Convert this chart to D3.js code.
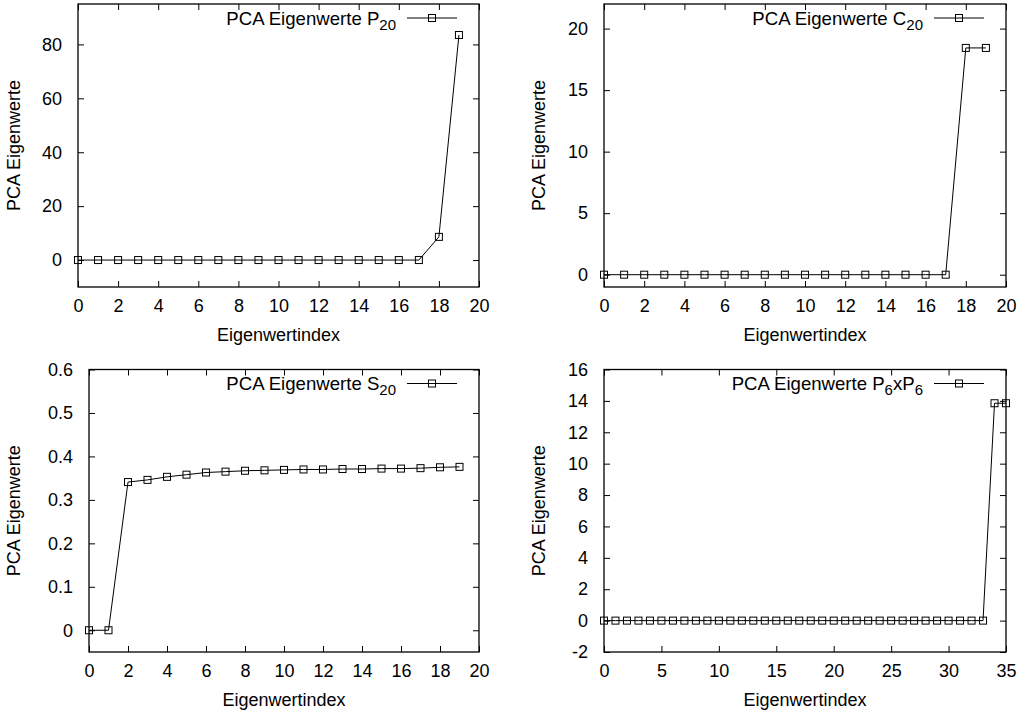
<!DOCTYPE html>
<html>
<head>
<meta charset="utf-8">
<script src="https://cdn.jsdelivr.net/npm/d3@7"></script>
<style>
  body { margin: 0; background: #fff; }
  svg text { font-family: "Liberation Sans", Arial, sans-serif; fill: #000; }
</style>
</head>
<body>
<div id="chart-area"></div>
<script>
// SVG Size
var width = 1021,
	height = 713;

// Eigenwerte
var p20Values = [0, 0, 0, 0, 0, 0, 0, 0, 0, 0, 0, 0, 0, 0, 0, 0, 0, 0, 8.6, 83.5];
var c20Values = [0, 0, 0, 0, 0, 0, 0, 0, 0, 0, 0, 0, 0, 0, 0, 0, 0, 0, 18.43, 18.43];
var s20Values = [0, 0, 0.341, 0.346, 0.353, 0.358, 0.363, 0.365, 0.367, 0.368, 0.369, 0.370,
	0.370, 0.371, 0.371, 0.372, 0.372, 0.373, 0.375, 0.376];
var p6p6Values = [0, 0, 0, 0, 0, 0, 0, 0, 0, 0, 0, 0, 0, 0, 0, 0, 0, 0, 0, 0,
	0, 0, 0, 0, 0, 0, 0, 0, 0, 0, 0, 0, 0, 0, 13.85, 13.85];

// tick labels
var xTicks20 = [0, 2, 4, 6, 8, 10, 12, 14, 16, 18, 20];
var xTicks35 = [0, 5, 10, 15, 20, 25, 30, 35];
var yTicksP20 = [0, 20, 40, 60, 80];
var yTicksC20 = [0, 5, 10, 15, 20];
var yTicksS20 = [0, 0.1, 0.2, 0.3, 0.4, 0.5, 0.6];
var yTicksP6 = [-2, 0, 2, 4, 6, 8, 10, 12, 14, 16];

// legend labels: [text, subscript] pieces
var legendP20 = [["PCA Eigenwerte P", ""], ["", "20"]];
var legendC20 = [["PCA Eigenwerte C", ""], ["", "20"]];
var legendS20 = [["PCA Eigenwerte S", ""], ["", "20"]];
var legendP6 = [["PCA Eigenwerte P", ""], ["", "6"], ["xP", ""], ["", "6"]];

var panels = [
	{ values: p20Values, xDomain: [0, 20], yDomain: [-10, 95], xTicks: xTicks20, yTicks: yTicksP20,
	  legend: legendP20, left: 78, right: 479, top: 4, bottom: 287, labelX: 20 },
	{ values: c20Values, xDomain: [0, 20], yDomain: [-1, 22], xTicks: xTicks20, yTicks: yTicksC20,
	  legend: legendC20, left: 604, right: 1006, top: 4, bottom: 287, labelX: 545 },
	{ values: s20Values, xDomain: [0, 20], yDomain: [-0.05, 0.6], xTicks: xTicks20, yTicks: yTicksS20,
	  legend: legendS20, left: 89, right: 479, top: 369.5, bottom: 652, labelX: 20 },
	{ values: p6p6Values, xDomain: [0, 35], yDomain: [-2, 16], xTicks: xTicks35, yTicks: yTicksP6,
	  legend: legendP6, left: 604, right: 1006, top: 369.5, bottom: 652, labelX: 545 }
];

var svg = d3.select('#chart-area')
	.append("svg")
	.attr("width", width)
	.attr("height", height);

var fontSize = 18;
var tickLen = 6;

panels.forEach(function(p) {
	var x = d3.scaleLinear().domain(p.xDomain).range([p.left, p.right]);
	var y = d3.scaleLinear().domain(p.yDomain).range([p.bottom, p.top]);
	var g = svg.append("g");

	// ticks, mirrored on all sides (gnuplot style, pointing inward)
	var xAxisB = d3.axisBottom(x).tickValues(p.xTicks).tickSizeInner(-tickLen).tickSizeOuter(0)
		.tickFormat(function(d) { return String(d); }).tickPadding(12);
	var xAxisT = d3.axisTop(x).tickValues(p.xTicks).tickSizeInner(-tickLen).tickSizeOuter(0)
		.tickFormat("");
	var yAxisL = d3.axisLeft(y).tickValues(p.yTicks).tickSizeInner(-tickLen).tickSizeOuter(0)
		.tickFormat(function(d) { return String(+d.toFixed(2)); }).tickPadding(16);
	var yAxisR = d3.axisRight(y).tickValues(p.yTicks).tickSizeInner(-tickLen).tickSizeOuter(0)
		.tickFormat("");

	g.append("g").attr("transform", "translate(0," + p.bottom + ")").call(xAxisB);
	g.append("g").attr("transform", "translate(0," + p.top + ")").call(xAxisT);
	g.append("g").attr("transform", "translate(" + p.left + ",0)").call(yAxisL);
	g.append("g").attr("transform", "translate(" + p.right + ",0)").call(yAxisR);

	g.selectAll(".domain").remove();
	g.selectAll(".tick line").attr("stroke", "#000").attr("stroke-width", 1);
	g.selectAll(".tick text")
		.style("font-size", fontSize + "px")
		.style("font-family", '"Liberation Sans", Arial, sans-serif')
		.attr("fill", "#000");

	// border box
	g.append("rect")
		.attr("x", p.left).attr("y", p.top)
		.attr("width", p.right - p.left).attr("height", p.bottom - p.top)
		.attr("fill", "none").attr("stroke", "#000").attr("stroke-width", 1.3);

	// axis labels
	g.append("text")
		.attr("x", (p.left + p.right) / 2)
		.attr("y", p.bottom + 54)
		.attr("text-anchor", "middle")
		.style("font-size", fontSize + "px")
		.text("Eigenwertindex");

	g.append("text")
		.attr("transform", "translate(" + p.labelX + "," + ((p.top + p.bottom) / 2) + ") rotate(-90)")
		.attr("text-anchor", "middle")
		.style("font-size", fontSize + "px")
		.text("PCA Eigenwerte");

	// data line
	var line = d3.line()
		.x(function(d, i) { return x(i); })
		.y(function(d) { return y(d); });

	g.append("path")
		.datum(p.values)
		.attr("d", line)
		.attr("fill", "none")
		.attr("stroke", "#000")
		.attr("stroke-width", 1);

	g.selectAll("rect.pt")
		.data(p.values)
		.enter()
		.append("rect")
		.attr("class", "pt")
		.attr("x", function(d, i) { return x(i) - 3.5; })
		.attr("y", function(d) { return y(d) - 3.5; })
		.attr("width", 7)
		.attr("height", 7)
		.attr("fill", "none")
		.attr("stroke", "#000")
		.attr("stroke-width", 1);

	// legend
	var ly = p.top + 14;
	var lx1 = p.right - 72, lx2 = p.right - 22;
	g.append("line")
		.attr("x1", lx1).attr("x2", lx2).attr("y1", ly).attr("y2", ly)
		.attr("stroke", "#000").attr("stroke-width", 1);
	g.append("rect")
		.attr("x", (lx1 + lx2) / 2 - 3.5).attr("y", ly - 3.5)
		.attr("width", 7).attr("height", 7)
		.attr("fill", "none").attr("stroke", "#000");

	var lt = g.append("text")
		.attr("x", lx1 - 11)
		.attr("y", ly + 6.5)
		.attr("text-anchor", "end")
		.style("font-size", "18.6px");
	var shifted = false;
	p.legend.forEach(function(piece) {
		if (piece[0]) {
			lt.append("tspan").attr("dy", shifted ? -5 : 0).text(piece[0]);
			shifted = false;
		} else {
			lt.append("tspan").attr("dy", shifted ? 0 : 5)
				.style("font-size", "15px").text(piece[1]);
			shifted = true;
		}
	});
});
</script>
</body>
</html>
